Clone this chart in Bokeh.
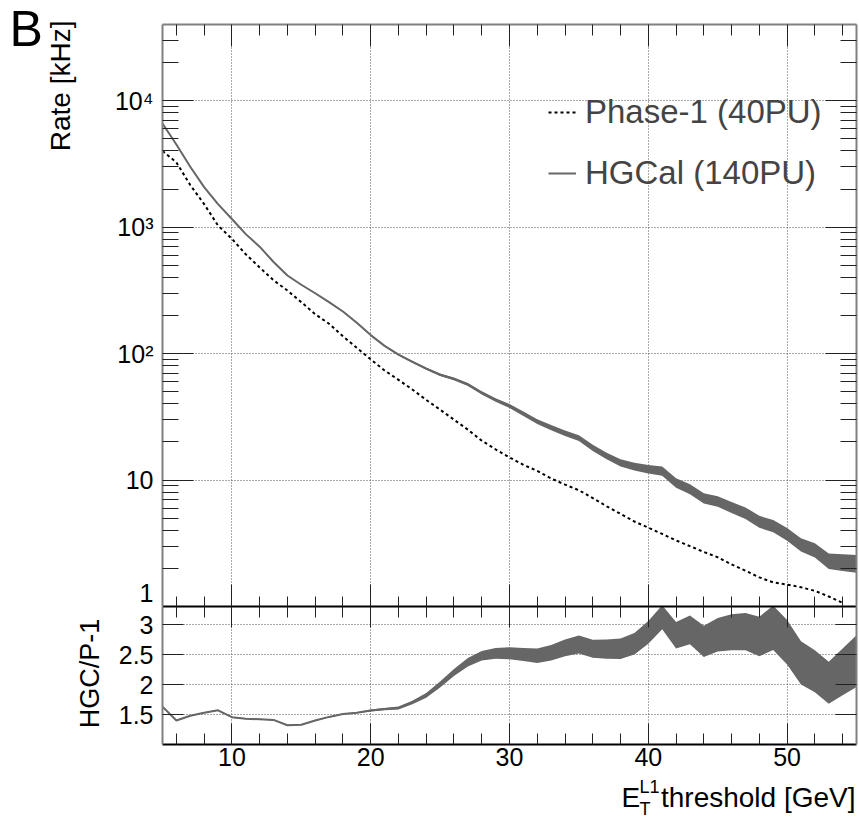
import numpy as np
from bokeh.plotting import figure
from bokeh.models import (LinearAxis, LogAxis, FixedTicker, Range1d, Label,
                          Legend, LegendItem)
from bokeh.layouts import column, row
from bokeh.embed import file_html
from bokeh.resources import INLINE

# ---------------- data ----------------
threshold = list(range(5, 56))          # HGCal + ratio points [GeV]
phase1_threshold = list(range(5, 55))   # Phase-1 points [GeV]

phase1_rate = [4000, 3250, 2150, 1520, 1030, 808, 610, 480, 380, 315,
               255, 205, 172, 137, 111, 90, 73.5, 62, 52, 43,
               36, 30, 25, 20.5, 17.5, 15.1, 13.2, 11.8, 10.3, 9.2,
               8.3, 7.2, 6.2, 5.4, 4.7, 4.2, 3.75, 3.33, 3.0, 2.7,
               2.45, 2.15, 1.92, 1.7, 1.55, 1.49, 1.42, 1.33, 1.2, 1.07]

hgcal_rate = [6600, 4500, 3000, 2070, 1520, 1160, 880, 700, 530, 414,
              350, 300, 255, 215, 175, 140, 115, 98, 86, 76,
              68, 63, 57, 49, 43, 38.5, 33.5, 29, 26, 23.5,
              21.5, 18, 15.5, 13.7, 12.8, 12.2, 11.8, 9.5, 8.5, 7.2,
              6.8, 6.1, 5.5, 4.7, 4.35, 3.75, 3.1, 2.8, 2.3, 2.25, 2.2]

hgcal_rel_err = [0.005, 0.005, 0.005, 0.005, 0.005, 0.005, 0.005, 0.005, 0.005, 0.005,
                 0.005, 0.01, 0.01, 0.01, 0.01, 0.01, 0.012, 0.015, 0.018, 0.02,
                 0.022, 0.025, 0.028, 0.03, 0.033, 0.036, 0.04, 0.043, 0.046, 0.05,
                 0.053, 0.057, 0.06, 0.066, 0.072, 0.078, 0.082, 0.086, 0.09, 0.094,
                 0.097, 0.1, 0.104, 0.108, 0.112, 0.116, 0.12, 0.13, 0.14, 0.15, 0.16]

ratio = [1.63, 1.40, 1.48, 1.53, 1.57, 1.455, 1.43, 1.42, 1.41, 1.32,
         1.33, 1.40, 1.46, 1.51, 1.53, 1.567, 1.59, 1.61, 1.70, 1.82,
         2.0, 2.2, 2.37, 2.48, 2.52, 2.52, 2.50, 2.48, 2.53, 2.61,
         2.667, 2.595, 2.59, 2.595, 2.68, 2.87, 3.12, 2.82, 2.91, 2.72,
         2.83, 2.87, 2.88, 2.80, 2.945, 2.705, 2.36, 2.22, 2.03, 2.21, 2.39]

ratio_err = [0.008, 0.008, 0.008, 0.008, 0.008, 0.008, 0.008, 0.008, 0.008, 0.008,
             0.008, 0.008, 0.008, 0.008, 0.008, 0.015, 0.02, 0.025, 0.03, 0.04,
             0.05, 0.06, 0.07, 0.08, 0.09, 0.1, 0.11, 0.12, 0.13, 0.14,
             0.15, 0.15, 0.16, 0.17, 0.18, 0.19, 0.2, 0.22, 0.24, 0.26,
             0.28, 0.3, 0.31, 0.33, 0.37, 0.37, 0.36, 0.35, 0.35, 0.39, 0.43]

x_major = [10, 20, 30, 40, 50]
x_minor = [6, 8, 12, 14, 16, 18, 22, 24, 26, 28, 32, 34, 36, 38,
           42, 44, 46, 48, 52, 54]
y_major = [1, 10, 100, 1000, 10000]
y_major_labels = ["1", "10", "10²", "10³", "10⁴"]
y_minor = [m * d for d in (1, 10, 100, 1000) for m in range(2, 10)] + [20000, 30000]
ratio_ticks = [1.5, 2, 2.5, 3]
ratio_tick_labels = ["1.5", "2", "2.5", "3"]

hgcal_lo = [v * (1 - e) for v, e in zip(hgcal_rate, hgcal_rel_err)]
hgcal_hi = [v * (1 + e) for v, e in zip(hgcal_rate, hgcal_rel_err)]
ratio_lo = [v - e for v, e in zip(ratio, ratio_err)]
ratio_hi = [v + e for v, e in zip(ratio, ratio_err)]

FONT = "Liberation Sans"
BAND = "#666666"
FRAME = "#808080"
GRID = "#555555"
LEFT_W = 105
RIGHT_W = 859 - LEFT_W


def style_axis(ax, ticker, maj, mnr, labels=None, line_color=FRAME, standoff=9):
    ax.ticker = ticker
    ax.major_tick_in = maj
    ax.major_tick_out = 0
    ax.minor_tick_in = mnr
    ax.minor_tick_out = 0
    ax.major_tick_line_color = "#222222"
    ax.minor_tick_line_color = "#222222"
    ax.axis_line_color = line_color
    ax.axis_line_width = 2
    if labels is None:
        ax.major_label_text_font_size = "1px"
        ax.major_label_text_alpha = 0
        ax.major_label_standoff = 0
    else:
        ax.major_label_overrides = labels
        ax.major_label_text_font = FONT
        ax.major_label_text_font_size = "25px"
        ax.major_label_text_color = "black"
        ax.major_label_standoff = standoff


def blank(width, height):
    f = figure(width=width, height=height, x_range=Range1d(0, 1),
               y_range=Range1d(0, 1), x_axis_location=None,
               y_axis_location=None, toolbar_location=None,
               output_backend="svg", min_border=0)
    f.grid.visible = False
    f.outline_line_color = None
    f.background_fill_color = "white"
    f.border_fill_color = "white"
    return f


def text_label(fig, x, y, txt, size, align="left", angle=0.0):
    fig.add_layout(Label(x=x, y=y, x_units="screen", y_units="screen", text=txt,
                         angle=angle, text_align=align, text_baseline="middle",
                         text_font=FONT, text_font_size=size, text_color="black"))


x_range = Range1d(5, 55)

# ---------------- top panel ----------------
top = figure(width=RIGHT_W, height=606, x_range=x_range, y_range=Range1d(1, 4e4),
             y_axis_type="log", toolbar_location=None, output_backend="svg",
             min_border_left=162 - LEFT_W, min_border_right=3, min_border_top=24,
             min_border_bottom=0)
top.outline_line_color = None
top.background_fill_color = "white"
top.border_fill_color = "white"

style_axis(top.yaxis[0], FixedTicker(ticks=y_major, minor_ticks=y_minor), 31, 16,
           labels={float(t): l for t, l in zip(y_major, y_major_labels)})
style_axis(top.xaxis[0], FixedTicker(ticks=x_major, minor_ticks=x_minor), 22, 10,
           labels=None, line_color="black")
ax_r = LogAxis()
style_axis(ax_r, FixedTicker(ticks=y_major, minor_ticks=y_minor), 31, 16)
top.add_layout(ax_r, "right")
ax_t = LinearAxis()
style_axis(ax_t, FixedTicker(ticks=x_major, minor_ticks=x_minor), 22, 11)
top.add_layout(ax_t, "above")

top.xgrid.ticker = FixedTicker(ticks=x_major)
top.ygrid.ticker = FixedTicker(ticks=y_major)
for g in (top.xgrid[0], top.ygrid[0]):
    g.grid_line_color = GRID
    g.grid_line_dash = "1 2"
    g.grid_line_width = 1

top.varea(x=threshold, y1=hgcal_lo, y2=hgcal_hi, fill_color=BAND)
hg = top.line(threshold, hgcal_rate, line_color=BAND, line_width=2)
ph = top.line(phase1_threshold, phase1_rate, line_color="black", line_width=2,
              line_dash="3 3")

legend = Legend(items=[LegendItem(label="Phase-1 (40PU)", renderers=[ph]),
                       LegendItem(label="HGCal (140PU)", renderers=[hg])],
                location=(384, 412), padding=2, spacing=23, glyph_width=28,
                label_standoff=9, label_text_font=FONT,
                label_text_font_size="33px", border_line_alpha=0,
                background_fill_alpha=0)
top.add_layout(legend)

# ---------------- ratio panel ----------------
bot = figure(width=RIGHT_W, height=170, x_range=x_range, y_range=Range1d(1.0, 3.3),
             toolbar_location=None, output_backend="svg",
             min_border_left=162 - LEFT_W, min_border_right=3, min_border_top=0,
             min_border_bottom=32)
bot.outline_line_color = None
bot.background_fill_color = "white"
bot.border_fill_color = "white"

style_axis(bot.yaxis[0], FixedTicker(ticks=ratio_ticks, minor_ticks=[]), 21, 0,
           labels={float(t): l for t, l in zip(ratio_ticks, ratio_tick_labels)})
style_axis(bot.xaxis[0], FixedTicker(ticks=x_major, minor_ticks=x_minor), 21, 11,
           labels={float(t): str(t) for t in x_major}, line_color="black",
           standoff=3)
bax_r = LinearAxis()
style_axis(bax_r, FixedTicker(ticks=ratio_ticks, minor_ticks=[]), 21, 0)
bot.add_layout(bax_r, "right")
bax_t = LinearAxis()
style_axis(bax_t, FixedTicker(ticks=x_major, minor_ticks=x_minor), 21, 11,
           line_color="black")
bot.add_layout(bax_t, "above")

bot.xgrid.ticker = FixedTicker(ticks=x_major)
bot.ygrid.ticker = FixedTicker(ticks=ratio_ticks)
for g in (bot.xgrid[0], bot.ygrid[0]):
    g.grid_line_color = GRID
    g.grid_line_dash = "1 2"
    g.grid_line_width = 1

bot.varea(x=threshold, y1=ratio_lo, y2=ratio_hi, fill_color=BAND)
bot.line(threshold, ratio, line_color=BAND, line_width=2)

# ---------------- title strips (text only) ----------------
left = blank(LEFT_W, 817)
text_label(left, 9, 789, "B", "50px")
text_label(left, 60, 797, "Rate [kHz]", "28px", align="right", angle=np.pi / 2)
text_label(left, 89, 144, "HGC/P-1", "27px", align="center", angle=np.pi / 2)

# frame of this strip is aligned with the plot frames (left edge at x=162)
xlab = blank(RIGHT_W, 41)
text_label(xlab, 693, 20, "threshold [GeV]", "28px", align="right")
text_label(xlab, 459, 20, "E", "28px")
text_label(xlab, 477, 31, "L1", "18px")
text_label(xlab, 477, 9, "T", "18px")

layout = row(left, column(top, bot, xlab, spacing=0), spacing=0)
open("out.html", "w").write(file_html(layout, INLINE))
